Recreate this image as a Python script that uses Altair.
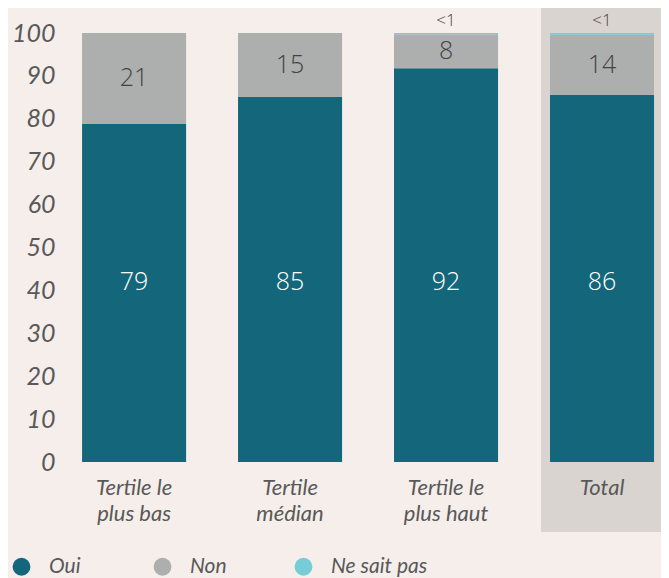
import altair as alt
import pandas as pd

categories = ["Tertile le|plus bas", "Tertile|médian", "Tertile le|plus haut", "Total"]
responses = ["Oui", "Non", "Ne sait pas"]
oui = [78.8, 85.1, 91.8, 85.6]
non = [21.2, 14.9, 7.9, 14.0]
nsp = [0.0, 0.0, 0.3, 0.4]
oui_labels = ["79", "85", "92", "86"]
non_labels = ["21", "15", "8", "14"]
nsp_labels = ["", "", "<1", "<1"]
colors = ["#14677a", "#adafae", "#76cdd8"]
y_ticks = list(range(0, 101, 10))

rows = []
for i, c in enumerate(categories):
    for j, (r, v) in enumerate(zip(responses, [oui[i], non[i], nsp[i]])):
        rows.append({"cat": c, "resp": r, "value": v, "ord": j})
df = pd.DataFrame(rows)

lab = pd.DataFrame({
    "cat": categories,
    "oui_lab": oui_labels,
    "non_lab": non_labels,
    "nsp_lab": nsp_labels,
    "non_mid": [o + n / 2 for o, n in zip(oui, non)],
    "top": [o + n + s for o, n, s in zip(oui, non, nsp)],
})

FONT = "Lato"
NUMFONT = "Open Sans"
GREY_TXT = "#595959"

x_enc = alt.X(
    "cat:N", sort=categories, title=None,
    scale=alt.Scale(paddingInner=0.333, paddingOuter=0.077, align=0.71),
    axis=alt.Axis(labelExpr="split(datum.value, '|')", labelAngle=0, labelFont=FONT,
                  labelFontStyle="italic", labelFontSize=22, labelColor=GREY_TXT,
                  labelLineHeight=26, labelBaseline="top", labelPadding=15,
                  ticks=False, domain=False, labelLimit=300, zindex=2),
)
y_scale = alt.Scale(domain=[0, 100], nice=False)

panel = alt.Chart(alt.Data(values=[{"p": 1}])).mark_rect(color="#d9d4d0").encode(
    x=alt.value(476), x2=alt.value(600), y=alt.value(-25), y2=alt.value(499)
)

bars = alt.Chart(df).mark_bar().encode(
    x=x_enc,
    y=alt.Y("value:Q", stack="zero", scale=y_scale, title=None,
            axis=alt.Axis(values=y_ticks, labelFont=FONT, labelFontStyle="italic",
                          labelFontSize=25, labelColor=GREY_TXT, ticks=False,
                          domain=False, grid=False, labelPadding=10, zindex=2)),
    color=alt.Color("resp:N", sort=responses,
                    scale=alt.Scale(domain=responses, range=colors),
                    legend=alt.Legend(title=None, orient="none", direction="horizontal",
                                      legendX=-54, legendY=523, symbolType="circle",
                                      symbolSize=320, symbolStrokeWidth=0,
                                      labelFont=FONT, labelFontStyle="italic",
                                      labelFontSize=21, labelColor=GREY_TXT,
                                      labelOffset=17, gridAlign="all", columnPadding=6)),
    order=alt.Order("ord:Q"),
)

t_oui = alt.Chart(lab).mark_text(font=NUMFONT, fontSize=25, color="white", fontWeight=300).encode(
    x=alt.X("cat:N", sort=categories), y=alt.datum(42), text="oui_lab:N"
)
t_non = alt.Chart(lab).mark_text(font=NUMFONT, fontSize=25, color="#424242", fontWeight=300).encode(
    x=alt.X("cat:N", sort=categories), y=alt.Y("non_mid:Q", scale=y_scale), text="non_lab:N"
)
t_nsp = alt.Chart(lab).mark_text(font=NUMFONT, fontSize=17, color="#424242", fontWeight=300,
                                  dy=-12).encode(
    x=alt.X("cat:N", sort=categories), y=alt.Y("top:Q", scale=y_scale), text="nsp_lab:N"
)

chart = alt.layer(panel, bars, t_oui, t_non, t_nsp).properties(
    width=596, height=429,
    autosize=alt.AutoSizeParams(type="none"),
    padding={"left": 57, "top": 25, "right": 0, "bottom": 116},
    background="#f5eeeb",
).configure_view(stroke=None)

chart.save("out.html", embed_options={"renderer": "svg", "actions": False})
